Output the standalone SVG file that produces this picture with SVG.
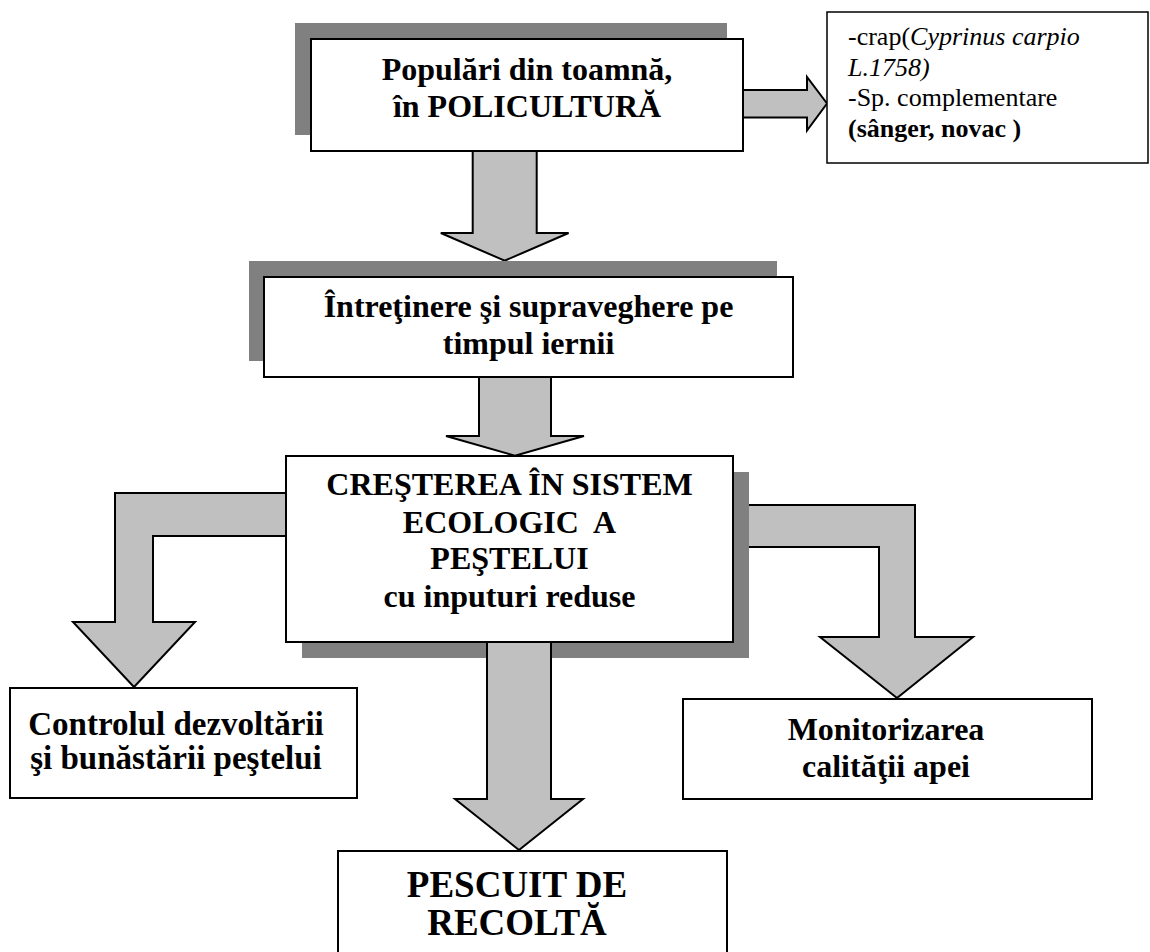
<svg xmlns="http://www.w3.org/2000/svg" width="1150" height="952" viewBox="0 0 1150 952">
<style>
.bg{fill:#ffffff}
.shadow{fill:#808080}
.box{fill:#ffffff;stroke:#000000;stroke-width:2}
.arrow{fill:#c0c0c0;stroke:#000000;stroke-width:2;stroke-linejoin:miter}
text{font-family:'Liberation Serif','Times New Roman','DejaVu Serif',serif;fill:#000000}
.t{font-weight:bold;text-anchor:middle}
</style>
<rect class="bg" x="0" y="0" width="1150" height="952"/>
<g id="connectors">
  <polygon class="arrow" points="472.7,150 536.7,150 536.7,233 568.6,233 504.7,260.7 440.8,233 472.7,233"/>
  <polygon class="arrow" points="742,90 807,90 807,77 827,103.5 807,130.5 807,117.5 742,117.5"/>
  <polygon class="arrow" points="479,376 551,376 551,436 584,436 515,455.7 446,436 479,436"/>
  <polygon class="arrow" points="290,493 115,493 115,622 73,622 134,687 195,622 153,622 153,536 290,536"/>
  <polygon class="arrow" points="743,505 915,505 915,637 973,637 897,698 820,637 879,637 879,547 743,547"/>
</g>
<g id="node-populari">
  <rect class="shadow" x="295" y="23" width="432" height="112"/>
  <rect class="box" x="311" y="39" width="432" height="112"/>
  <text class="t" font-family="Liberation Serif" font-size="32" x="527" y="80">Populări din toamnă,</text>
  <text class="t" font-family="Liberation Serif" font-size="32" x="527" y="117">în POLICULTURĂ</text>
</g>
<g id="node-specii">
  <rect class="box" x="827" y="12" width="321" height="151" style="stroke-width:1.5"/>
  <text font-family="Liberation Serif" font-size="26" x="848" y="45">-crap(<tspan font-style="italic">Cyprinus carpio</tspan></text>
  <text font-family="Liberation Serif" font-size="26" x="848" y="76" font-style="italic">L.1758)</text>
  <text font-family="Liberation Serif" font-size="26" x="848" y="106">-Sp. complementare</text>
  <text font-family="Liberation Serif" font-size="26" x="848" y="137" font-weight="bold">(sânger, novac )</text>
</g>
<g id="node-intretinere">
  <rect class="shadow" x="249" y="261" width="528" height="100"/>
  <rect class="box" x="264" y="277" width="529" height="100"/>
  <text class="t" font-family="Liberation Serif" font-size="32" x="528.5" y="317">Întreţinere şi supraveghere pe</text>
  <text class="t" font-family="Liberation Serif" font-size="32" x="528.5" y="354">timpul iernii</text>
</g>
<g id="node-crestere">
  <rect class="shadow" x="302" y="472" width="447" height="186"/>
  <polygon class="arrow" points="487,642 551,642 551,799 583,799 519,850 455,799 487,799"/>
  <rect class="box" x="286" y="456" width="447" height="186"/>
  <text class="t" font-family="Liberation Serif" font-size="32" x="509.5" y="495">CREŞTEREA ÎN SISTEM</text>
  <text class="t" font-family="Liberation Serif" font-size="32" x="509.5" y="533" xml:space="preserve">ECOLOGIC  A</text>
  <text class="t" font-family="Liberation Serif" font-size="32" x="509.5" y="569">PEŞTELUI</text>
  <text class="t" font-family="Liberation Serif" font-size="32" x="509.5" y="607">cu inputuri reduse</text>
</g>
<g id="node-controlul">
  <rect class="box" x="10" y="688" width="347" height="110"/>
  <text class="t" font-family="Liberation Serif" font-size="33" x="176" y="735">Controlul dezvoltării</text>
  <text class="t" font-family="Liberation Serif" font-size="33" x="176" y="769">şi bunăstării peştelui</text>
</g>
<g id="node-monitorizarea">
  <rect class="box" x="683" y="699" width="409" height="100"/>
  <text class="t" font-family="Liberation Serif" font-size="32" x="886" y="740">Monitorizarea</text>
  <text class="t" font-family="Liberation Serif" font-size="32" x="886" y="777">calităţii apei</text>
</g>
<g id="node-pescuit">
  <rect class="box" x="338" y="851" width="389" height="120"/>
  <text class="t" font-family="Liberation Serif" font-size="37" x="517" y="897">PESCUIT DE</text>
  <text class="t" font-family="Liberation Serif" font-size="37" x="517" y="935">RECOLTĂ</text>
</g>
</svg>
